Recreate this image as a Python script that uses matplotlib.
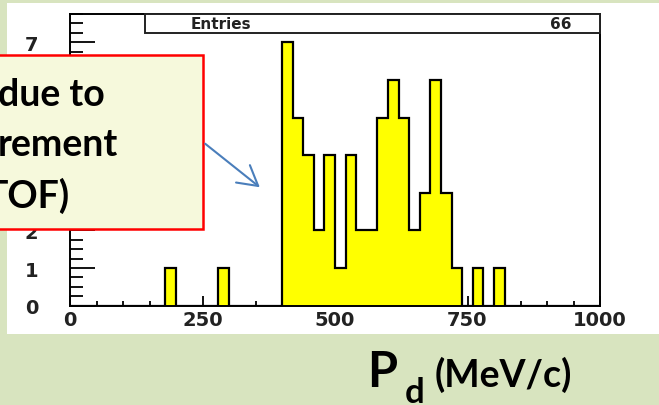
import numpy as np
import matplotlib
matplotlib.use("Agg")
import matplotlib.pyplot as plt
from matplotlib.patches import Rectangle, FancyArrowPatch

W, H = 659, 406

# histogram: 20 MeV/c bins from 0 to 1000
bin_edges = np.arange(0, 1001, 20)
counts = [0, 0, 0, 0, 0, 0, 0, 0, 0, 1,     # 0-200
          0, 0, 0, 0, 1, 0, 0, 0, 0, 0,     # 200-400
          7, 5, 4, 2, 4, 1, 4, 2, 2, 5,     # 400-600
          6, 5, 2, 3, 6, 3, 1, 0, 1, 0,     # 600-800
          1, 0, 0, 0, 0, 0, 0, 0, 0, 0]     # 800-1000
entries = 66

x_major = [0, 250, 500, 750, 1000]
y_major = [0, 1, 2, 3, 4, 5, 6, 7]
# labels 3..6 sit under the annotation box on the slide
y_labels = ["0", "1", "2", "", "", "", "", "7"]

box_lines = ["due to", "rement", "TOF)"]

BG = "#d8e4bf"
YELLOW = "#ffff00"


def fx(px):
    return px / W


def fy(py):
    return 1 - py / H


fig = plt.figure(figsize=(W / 100, H / 100), dpi=100)
fig.patch.set_facecolor(BG)

# white picture panel of the slide
fig.patches.append(Rectangle((fx(7), fy(335)), fx(659) - fx(7), fy(4) - fy(335),
                             transform=fig.transFigure, facecolor="white",
                             edgecolor="none", zorder=-5))

ax = fig.add_axes([fx(70), fy(306.7), fx(600) - fx(70), fy(15) - fy(306.7)])
ax.stairs(counts, bin_edges, fill=True, color=YELLOW, zorder=2)
ax.stairs(counts, bin_edges, color="black", linewidth=1.6, zorder=3)

ax.set_xlim(0, 1000)
ax.set_ylim(0, 7.75)
ax.set_xticks(x_major)
ax.set_xticks(np.arange(0, 1001, 50), minor=True)
ax.set_yticks(y_major)
ax.set_yticks(np.arange(0, 7.76, 0.25), minor=True)

lab_font = dict(family="DejaVu Sans", weight="bold", size=14, color="#222222")
ax.set_xticklabels([str(v) for v in x_major], fontdict=lab_font)
ax.set_yticklabels(y_labels, fontdict=lab_font)
ax.tick_params(axis="x", which="major", direction="in", length=7, width=1.3, pad=3)
ax.tick_params(axis="x", which="minor", direction="in", length=3.5, width=1.3)
ax.tick_params(axis="y", which="major", direction="in", length=18, width=1.3, pad=23)
ax.tick_params(axis="y", which="minor", direction="in", length=9.5, width=1.3)
for s in ax.spines.values():
    s.set_linewidth(1.4)
    s.set_zorder(4)

# stats box
ax.add_patch(Rectangle((0.1415, 0.934), 1 - 0.1415, 0.066, transform=ax.transAxes,
                       facecolor="white", edgecolor="#222222", linewidth=1.4,
                       zorder=5, clip_on=False))
ax.text(0.285, 0.967, "Entries", transform=ax.transAxes, ha="center", va="center",
        family="DejaVu Sans", weight="bold", size=11, color="#222222", zorder=6)
ax.text(0.926, 0.967, str(entries), transform=ax.transAxes, ha="center", va="center",
        family="DejaVu Sans", weight="bold", size=11, color="#222222", zorder=6)

# annotation box
fig.patches.append(Rectangle((fx(-5), fy(230)), fx(203) - fx(-5), fy(56) - fy(230),
                             transform=fig.transFigure, facecolor="#f6f9dc",
                             edgecolor="#ff0000", linewidth=1.8, zorder=10))
for txt, x0, base in zip(box_lines, [-2, -2, -14], [106.5, 156.5, 207.5]):
    fig.text(fx(x0), fy(base), txt, ha="left", va="baseline", family="Lato",
             weight="bold", size=27, color="black", zorder=11)

fig.patches.append(FancyArrowPatch((fx(203), fy(143)), (fx(262), fy(190)),
                                   transform=fig.transFigure,
                                   arrowstyle="->,head_length=0.7,head_width=0.4",
                                   mutation_scale=20, color="#4a7ebb",
                                   linewidth=1.5, zorder=10))

# axis title on the slide
fig.text(fx(367), fy(387), "P", ha="left", va="baseline", family="Lato",
         weight="bold", size=35, color="black")
fig.text(fx(405), fy(403), "d", ha="left", va="baseline", family="Lato",
         weight="bold", size=25, color="black")
fig.text(fx(435), fy(387), "(MeV/c)", ha="left", va="baseline", family="Lato",
         weight="bold", size=27, color="black")

fig.savefig("out.png", dpi=100, facecolor=BG)
